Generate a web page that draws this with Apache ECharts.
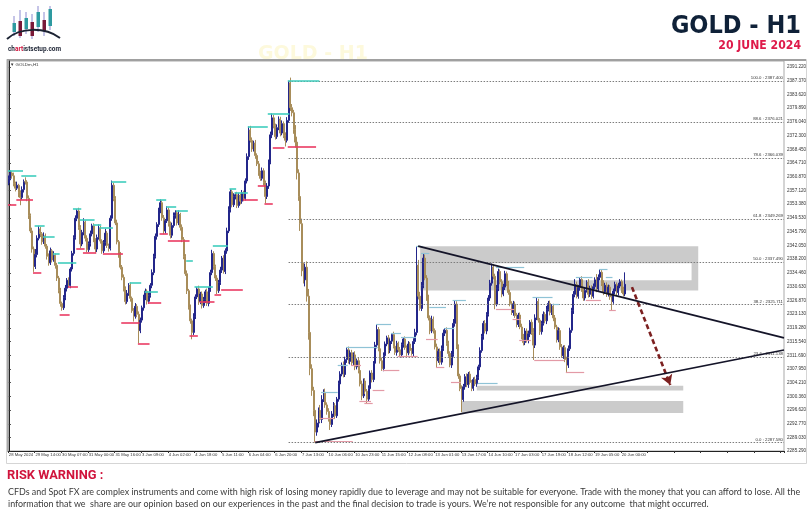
<!DOCTYPE html>
<html><head><meta charset="utf-8">
<script src="https://cdn.jsdelivr.net/npm/echarts@6/dist/echarts.min.js"></script>
<style>html,body{margin:0;padding:0;background:#fff}#c{width:812px;height:520px}</style>
</head><body><div id="c"></div>
<script>
// ---------- DATA ----------
const open0 = 2359.2;
const closes = [
2360.5,2362.0,2361.2,2359.0,2357.8,2358.6,2356.5,2355.2,2357.4,2359.6,
2359.5,2355.0,2350.2,2346.0,2341.0,2336.2,2339.5,2344.0,2346.5,2345.2,
2343.0,2344.6,2341.8,2339.0,2337.2,2340.5,2338.0,2339.2,2336.5,2333.0,
2329.5,2326.0,2324.8,2327.6,2330.2,2332.4,2331.0,2335.5,2339.8,2344.2,
2349.5,2351.5,2347.0,2342.4,2345.6,2348.4,2344.0,2340.8,2342.5,2345.2,
2347.4,2343.5,2341.0,2344.2,2346.8,2343.2,2340.5,2342.8,2345.4,2342.0,
2341.2,2349.5,2358.6,2355.0,2348.2,2343.0,2339.5,2336.0,2333.2,2330.0,
2326.5,2328.8,2331.0,2327.4,2324.0,2322.5,2325.2,2323.0,2318.5,2321.4,
2324.8,2327.5,2329.4,2326.6,2328.2,2331.0,2334.5,2339.0,2344.5,2347.8,
2351.5,2353.8,2349.6,2346.0,2348.8,2351.8,2348.0,2344.8,2347.5,2350.2,
2351.0,2348.2,2350.5,2347.0,2343.6,2339.0,2334.2,2329.5,2325.0,2321.2,
2318.0,2322.5,2327.8,2330.0,2326.5,2328.6,2325.4,2327.0,2329.2,2326.0,
2329.8,2334.5,2339.8,2336.2,2333.0,2329.5,2331.8,2335.2,2338.5,2334.8,
2340.5,2346.0,2352.0,2356.8,2353.2,2355.5,2356.0,2353.0,2355.8,2354.2,
2356.5,2355.0,2359.8,2366.5,2373.8,2371.0,2368.6,2370.2,2366.8,2364.5,
2362.0,2360.5,2362.6,2359.4,2355.5,2358.4,2365.0,2372.5,2377.2,2375.0,
2372.0,2374.5,2376.8,2373.0,2375.6,2372.4,2371.0,2376.5,2386.8,2380.0,
2378.6,2374.0,2370.5,2362.0,2355.5,2348.0,2335.0,2332.5,2336.0,2328.0,
2318.0,2308.0,2302.0,2296.5,2290.5,2293.0,2296.5,2294.0,2299.5,2301.5,
2298.0,2296.2,2294.0,2292.6,2295.5,2297.8,2295.0,2299.6,2303.8,2306.5,
2309.0,2306.4,2310.5,2313.2,2310.0,2312.4,2309.6,2311.8,2308.5,2310.2,
2307.5,2303.8,2300.5,2304.6,2301.8,2299.6,2302.5,2306.8,2305.0,2309.5,
2314.5,2318.8,2313.5,2310.2,2308.0,2311.6,2314.8,2316.5,2313.0,2315.6,
2317.4,2314.2,2312.5,2315.0,2313.2,2311.8,2314.6,2316.2,2313.8,2312.4,
2314.8,2313.0,2312.2,2315.5,2318.0,2336.5,2328.0,2324.6,2331.0,2338.5,
2333.0,2327.5,2322.0,2318.4,2321.6,2318.5,2314.0,2310.2,2312.8,2309.8,
2313.5,2317.8,2318.6,2315.0,2312.2,2309.0,2312.0,2320.5,2325.8,2314.0,
2306.0,2302.5,2299.5,2303.0,2305.8,2303.6,2306.5,2304.2,2302.6,2305.0,
2303.8,2305.6,2308.5,2313.0,2316.8,2320.5,2318.4,2323.0,2327.5,2331.6,
2336.0,2333.5,2325.8,2330.2,2334.8,2332.0,2328.6,2330.5,2334.2,2331.5,
2329.0,2326.0,2323.5,2325.8,2322.6,2320.2,2322.8,2319.5,2317.0,2315.2,
2318.4,2315.8,2317.6,2320.8,2318.0,2314.5,2322.0,2326.5,2321.4,2318.2,
2320.5,2323.0,2321.2,2324.4,2326.0,2323.5,2325.2,2322.0,2319.5,2316.0,
2318.5,2314.0,2311.6,2313.8,2310.5,2309.0,2313.5,2318.6,2324.0,2328.5,
2331.2,2328.0,2330.4,2332.6,2329.8,2327.5,2329.6,2331.8,2328.5,2330.2,
2328.0,2330.6,2332.5,2330.0,2333.2,2334.6,2331.5,2329.2,2331.0,2328.6,
2330.5,2327.8,2326.5,2329.4,2331.2,2329.0,2330.8,2332.0,2329.8,2328.6,2331.275
];
const wickHi = [
0.8,0.7,0.5,0.9,0.6,1.0,0.4,0.7,0.9,0.6, 1.2,0.5,0.8,0.6,0.9,0.7,1.5,0.8,0.9,0.6,
0.5,1.0,0.7,0.6,0.8,0.9,0.5,1.2,0.6,0.7, 0.6,0.8,0.5,0.7,0.9,0.6,0.8,0.5,0.7,0.6,
0.8,0.5,0.9,0.6,0.7,1.1,0.5,0.8,0.6,0.9, 0.6,0.7,0.5,0.8,1.0,0.6,0.5,0.7,1.2,0.6,
0.5,0.8,1.3,0.7,0.6,0.9,0.5,0.7,0.6,0.8, 0.7,0.9,0.6,0.8,0.5,0.7,0.9,0.6,0.8,0.7,
0.6,0.9,0.7,0.5,0.8,0.6,0.9,0.7,0.8,0.6, 0.9,0.9,0.6,0.8,0.5,1.0,0.7,0.6,0.8,0.9,
0.7,0.6,1.2,0.5,0.8,0.7,0.6,0.9,0.5,0.7, 0.6,0.8,0.7,0.5,0.9,0.6,0.7,0.8,0.6,0.9,
0.7,0.8,1.0,0.6,0.5,0.8,0.7,0.9,0.6,0.8, 0.7,0.9,0.8,0.7,0.6,0.9,0.6,0.8,0.7,0.5,
0.8,0.6,0.7,0.9,1.0,1.2,0.8,0.7,0.9,0.6, 0.8,0.6,0.9,0.7,0.5,0.8,0.7,0.9,1.2,0.8,
0.6,0.9,0.8,0.7,0.9,0.6,0.8,0.9,0.6,1.5, 1.0,0.8,1.2,1.5,1.0,2.0,1.4,2.2,1.0,1.6,
2.0,1.5,1.2,1.0,1.4,1.0,0.8,1.5,1.2,0.8, 1.0,0.7,0.9,0.6,0.8,1.0,0.7,0.6,0.9,0.8,
0.7,1.0,0.8,0.7,0.9,0.6,0.8,0.7,1.0,0.6, 0.8,0.6,0.9,0.7,0.8,0.6,0.9,0.7,0.8,0.6,
0.9,1.5,0.7,0.6,0.8,0.9,0.7,0.6,0.8,0.7, 0.4,0.8,0.6,0.7,0.5,0.8,0.6,0.5,0.7,0.6,
0.8,0.6,0.7,0.9,1.0,5.3,1.5,1.2,0.9,1.3, 1.0,0.8,0.9,0.7,1.0,0.8,0.6,0.9,0.7,0.8,
0.9,1.0,0.6,0.8,0.7,0.6,0.9,1.2,1.1,0.8, 0.7,0.6,0.9,0.8,0.7,0.9,0.6,0.8,0.7,0.6,
0.8,0.7,0.6,0.9,0.8,0.7,0.9,0.6,0.8,0.9, 1.0,0.8,0.7,0.9,0.8,0.6,0.7,0.9,0.8,0.6,
0.7,0.8,0.6,0.9,0.7,0.8,0.6,0.7,0.9,0.6, 0.8,0.7,0.9,0.6,0.8,1.2,1.0,1.2,0.8,0.6,
0.7,0.8,0.6,0.9,0.7,0.8,0.6,0.7,0.8,0.6, 0.9,0.7,0.8,0.6,0.7,0.8,0.9,0.7,0.8,0.9,
1.5,0.8,0.7,0.6,0.9,0.7,0.8,0.6,0.9,0.7, 0.8,0.9,0.7,1.6,0.8,0.8,0.6,0.9,0.7,0.8,
0.7,0.6,0.9,0.7,0.8,0.6,0.9,0.7,0.6,0.8,3.3
];
const wickLo = [
0.6,0.5,0.8,0.7,0.9,0.5,1.2,2.1,0.6,0.8, 0.7,0.8,0.9,0.6,1.0,1.5,0.7,0.8,0.6,0.9,
0.8,0.6,0.7,0.9,0.8,0.6,0.7,0.5,0.9,0.8, 0.7,0.9,0.8,0.6,0.7,0.9,0.6,0.8,0.7,0.6,
0.6,0.8,0.7,1.2,0.6,0.8,0.9,0.7,0.6,0.8, 0.7,0.6,1.0,0.8,0.6,0.7,0.8,0.6,0.9,0.7,
0.9,0.6,0.7,0.8,0.6,0.7,0.9,0.6,0.8,0.7, 0.8,0.6,0.7,0.9,0.6,1.5,0.7,0.8,3.5,0.7,
0.7,0.8,0.6,0.9,0.7,0.6,0.8,0.7,0.6,0.9, 0.7,0.6,0.8,0.9,0.7,0.6,0.8,0.9,0.7,0.6,
0.8,0.7,0.6,0.9,0.7,0.8,0.6,0.9,0.7,0.8, 1.9,0.7,0.8,0.6,0.9,0.7,0.8,0.6,0.9,0.7,
0.8,0.6,0.7,0.9,0.8,0.9,0.6,0.7,0.8,0.6, 0.7,0.8,0.6,0.9,0.7,0.6,0.8,0.7,0.6,0.9,
0.7,0.8,0.6,0.7,0.9,0.6,0.8,0.7,0.9,0.6, 0.8,0.7,0.6,0.9,1.9,0.7,0.8,0.6,0.9,0.7,
0.8,0.6,0.7,0.9,0.6,0.8,1.7,0.6,0.7,0.9, 1.0,1.2,1.5,1.8,1.2,2.0,1.5,1.0,1.8,1.5,
2.0,1.8,1.5,1.6,2.9,1.0,1.2,0.8,1.0,0.7, 0.8,0.9,0.6,1.5,0.7,0.8,0.9,0.6,0.7,0.8,
0.6,0.8,0.7,0.9,0.6,0.8,0.7,0.6,0.9,0.7, 0.8,0.7,1.2,0.6,0.8,1.1,0.7,0.6,0.8,0.7,
0.6,0.9,0.7,0.8,0.6,0.7,0.8,0.6,0.9,0.7, 0.8,0.6,0.7,0.9,0.6,0.5,0.7,0.8,0.6,0.9,
0.7,0.8,0.6,0.9,0.7,0.8,0.9,0.6,0.7,0.8, 0.6,0.8,0.7,0.9,0.6,0.8,0.7,1.8,0.6,0.8,
0.7,0.6,0.8,0.7,0.9,0.6,0.8,0.7,0.9,0.6, 0.8,0.7,3.5,0.6,0.8,0.7,0.9,0.6,0.8,0.7,
0.6,0.8,0.7,0.9,0.6,0.8,0.7,0.9,0.6,0.8, 0.7,0.9,1.4,0.6,0.8,0.7,0.9,0.6,0.8,0.7,
0.6,0.8,0.7,0.9,0.6,0.8,0.7,0.6,0.9,0.8, 0.7,0.6,0.8,0.9,0.7,4.1,0.8,0.6,0.7,0.9,
0.8,0.6,0.7,0.9,0.6,0.8,0.7,0.9,0.6,0.8, 0.7,0.8,0.6,0.9,0.7,1.9,0.8,0.6,0.7,0.9,
0.8,0.6,0.7,0.9,0.6,0.8,0.7,0.6,0.9,0.7, 0.8,0.6,0.7,0.9,0.6,0.8,0.7,0.9,0.6,0.8,
0.7,0.8,2.4,0.6,0.9,0.7,0.8,0.6,0.9,0.7,0.6
];
const nSlots = 466;
const labelEvery = 16;
const xTickLabels = ['28 May 2024','29 May 14:00','30 May 07:00','31 May 00:00','31 May 16:00','3 Jun 09:00',
 '4 Jun 02:00','4 Jun 18:00','5 Jun 11:00','6 Jun 04:00','6 Jun 20:00','7 Jun 13:00','10 Jun 06:00',
 '10 Jun 23:00','11 Jun 15:00','12 Jun 08:00','13 Jun 01:00','13 Jun 17:00','14 Jun 10:00','17 Jun 03:00',
 '17 Jun 19:00','18 Jun 12:00','19 Jun 05:00','20 Jun 00:00'];
const yTickValues = [2285.290,2289.030,2292.770,2296.620,2300.360,2304.210,2307.950,2311.690,2315.540,
 2319.280,2323.130,2326.870,2330.630,2334.460,2338.200,2342.050,2345.790,2349.530,2353.380,2357.120,
 2360.870,2364.710,2368.450,2372.300,2376.040,2379.890,2383.620,2387.370,2391.220];
const yMin = 2285.29, yMax = 2392.88;
const fibLow = 2287.58, fibHigh = 2387.40;
const fibLevels = [0, 23.6, 38.2, 50.0, 61.8, 78.6, 88.6, 100.0];
const fibStartIdx = 168;
// swing level markers: [startIdx, endIdx, price]
const swingHighs = [[0,8,2362.7],[8,16,2361.3],[16,21,2347.3],[21,27,2344.5],[27,30,2339.8],[30,40,2337.1],
 [39,43,2352.0],[43,51,2349.0],[51,55,2347.8],[55,62,2347.0],[62,70,2359.7],[73,79,2331.6],[82,89,2329.1],
 [89,94,2354.7],[95,100,2352.8],[101,107,2351.7],[107,110,2337.9],[112,122,2330.5],[123,131,2341.8],
 [133,136,2357.5],[136,143,2356.6],[144,155,2374.8],[156,168,2378.4],[168,186,2387.4]];
const swingLows = [[0,4,2353.1],[5,14,2354.7],[15,19,2334.6],[31,36,2323.0],[36,41,2330.7],[41,45,2341.2],
 [45,52,2340.1],[57,68,2339.8],[68,78,2320.8],[78,84,2315.0],[84,91,2326.1],[91,95,2345.1],[96,108,2343.4],
 [109,113,2317.2],[115,123,2326.4],[124,127,2328.3],[128,140,2329.9],[141,149,2354.7],[150,154,2358.6],
 [154,158,2353.6],[159,165,2369.0],[168,184,2369.3]];
const swingHighsLate = [[188,197,2301.5],[198,203,2309.0],[203,221,2313.9],[221,229,2320.3],[230,235,2317.8],
 [236,244,2316.7],[245,248,2341.8],[248,252,2339.8],[253,262,2325.0],[262,267,2319.2],[267,274,2326.9],
 [282,293,2304.0],[293,309,2336.0],[315,326,2327.7],[327,330,2325.8],[341,350,2333.2],[355,359,2335.4],[359,362,2333.2]];
const swingLowsLate = [[184,206,2288.0],[187,195,2294.4],[206,211,2309.0],[211,217,2299.1],[214,218,2298.5],
 [219,225,2302.1],[225,234,2307.6],[234,245,2311.5],[251,257,2316.1],[257,261,2308.4],[266,271,2304.3],
 [293,303,2324.4],[303,307,2321.7],[307,313,2315.9],[316,333,2310.4],[335,345,2307.1],[347,355,2326.9],[361,364,2324.1]];
const triUpper = [[245.8, 2341.8], [465.5, 2316.5]];
const triLower = [[184.0, 2287.6], [465.5, 2313.15]];
const arrowPts = [[374.2, 2330.5], [397.2, 2303.5]];
// zones: [startIdx, endIdx, top, bottom]
const grayZones = [[247, 414, 2341.8, 2329.6], [281, 405, 2303.3, 2302.0], [272, 405, 2299.1, 2295.8]];
const whiteZones = [[289, 410, 2337.1, 2332.4]];

// ---------- BUILD ----------
const cats = Array.from({length: nSlots}, (_, i) => String(i));
const candleData = closes.map((c, i) => {
  const o = i === 0 ? open0 : closes[i - 1];
  return [o, c, Math.min(o, c) - wickLo[i], Math.max(o, c) + wickHi[i]];
});
const lastClose = closes[closes.length - 1];
function segs(arr, color, w) {
  return arr.map(([s, e, v]) => [{coord: [s - 0.5, v], lineStyle: {color: color, width: w, type: 'solid'}}, {coord: [e + 0.5, v]}]);
}
function rects(arr, color) {
  return arr.map(([s, e, t, b]) => [{coord: [s, t], itemStyle: {color: color}}, {coord: [e, b]}]);
}
const fibLines = fibLevels.map(l => {
  const v = fibLow + (fibHigh - fibLow) * l / 100;
  return [{coord: [fibStartIdx, v], label: {formatter: l.toFixed(1) + ' : ' + v.toFixed(3)}}, {coord: [nSlots - 0.5, v]}];
});

const chart = echarts.init(document.getElementById('c'), null, {renderer: 'canvas'});
const F = 'Liberation Sans';
const showTick = (i) => i % labelEvery === 0;
chart.setOption({
  animation: false,
  backgroundColor: '#ffffff',
  grid: {left: 8, right: 28, top: 61, bottom: 69, show: true, borderColor: '#a9a9a9', borderWidth: 1},
  xAxis: [{
    type: 'category', data: cats, boundaryGap: true,
    axisLine: {lineStyle: {color: '#222', width: 1}},
    axisTick: {show: true, length: 2, interval: showTick, lineStyle: {color: '#333'}},
    axisLabel: {interval: showTick, showMinLabel: true, hideOverlap: false,
      formatter: (v, i) => xTickLabels[i / labelEvery] || '',
      fontSize: 4.2, color: '#333', align: 'left', margin: 2, fontFamily: F},
    splitLine: {show: false}
  }, {
    type: 'value', min: -0.5, max: nSlots - 0.5, show: false, gridIndex: 0
  }],
  yAxis: {
    type: 'value', position: 'right', min: yMin, max: yMax, scale: true,
    axisLine: {show: true, lineStyle: {color: '#222', width: 1}},
    axisTick: {show: true, length: 2, customValues: yTickValues, lineStyle: {color: '#333'}},
    axisLabel: {customValues: yTickValues, formatter: (v) => v.toFixed(3), fontSize: 4.6, color: '#333', margin: 3, fontFamily: F},
    splitLine: {show: false}
  },
  series: [
    {
      type: 'line', xAxisIndex: 1, data: [], z: 1, silent: true,
      markArea: {silent: true, data: rects(grayZones, '#cbcbcb').concat(rects(whiteZones, '#ffffff'))}
    },
    {
      type: 'line', xAxisIndex: 1, data: [], z: 2, silent: true,
      markLine: {silent: true, symbol: ['none', 'none'],
        lineStyle: {color: '#7d7d7d', width: 1, type: [1.5, 1.5]},
        label: {show: true, position: 'insideEndTop', fontSize: 4.3, color: '#333', distance: [1, 1], fontFamily: F},
        data: fibLines}
    },
    {
      type: 'candlestick', xAxisIndex: 0, data: candleData, z: 3, barWidth: 1.5,
      itemStyle: {color: '#23268a', color0: '#a88d5a', borderColor: '#23268a', borderColor0: '#a88d5a', borderWidth: 1},
      markLine: {silent: true, symbol: ['none', 'none'], lineStyle: {opacity: 0},
        label: {show: true, position: 'end', distance: 1, formatter: () => lastClose.toFixed(3),
          backgroundColor: '#111', color: '#fff', fontSize: 5, padding: [1, 2], fontFamily: F},
        data: [{yAxis: lastClose}]}
    },
    {
      type: 'line', xAxisIndex: 1, data: [], z: 4, silent: true,
      markLine: {silent: true, symbol: ['none', 'none'], label: {show: false},
        data: segs(swingHighs, '#3fcdbd', 1.6).concat(segs(swingLows, '#ea3a62', 1.6),
          segs(swingHighsLate, '#8fc3d6', 1.2), segs(swingLowsLate, '#e39aa6', 1.2))}
    },
    {
      type: 'line', xAxisIndex: 1, data: triUpper, z: 5, symbol: 'none', silent: true,
      lineStyle: {color: '#141428', width: 1.7}
    },
    {
      type: 'line', xAxisIndex: 1, data: triLower, z: 5, symbol: 'none', silent: true,
      lineStyle: {color: '#141428', width: 1.7},
      markLine: {silent: true, symbol: ['none', 'arrow'], symbolSize: [9, 10], label: {show: false},
        lineStyle: {color: '#7c2020', width: 2.6, type: [5, 3]},
        data: [[{coord: arrowPts[0]}, {coord: arrowPts[1]}]]}
    }
  ],
  graphic: [
    // window frame
    {type: 'rect', shape: {x: 6.5, y: 59.5, width: 800, height: 404}, style: {fill: 'none', stroke: '#d5d5d5', lineWidth: 1}, z: -1},
    {type: 'line', shape: {x1: 7, y1: 60, x2: 806, y2: 60}, style: {stroke: '#a0a0a0', lineWidth: 2}},
    {type: 'line', shape: {x1: 8, y1: 60, x2: 8, y2: 451}, style: {stroke: '#a8a8a8', lineWidth: 2}},
    {type: 'text', style: {text: '▼ GOLDm,H1', x: 10, y: 63, fontSize: 4.4, fill: '#333', fontFamily: F}},
    // faint watermark
    {type: 'text', style: {text: 'GOLD - H1', x: 258, y: 45, fontSize: 19, fontWeight: 'bold', fill: '#fdf9dc', fontFamily: 'DejaVu Sans'}, z: -2},
    // logo
    {type: 'group', children: [
      {type: 'line', shape: {x1: 14, y1: 16, x2: 14, y2: 36}, style: {stroke: '#8c8ad0', lineWidth: 1}},
      {type: 'rect', shape: {x: 12.5, y: 23, width: 3.5, height: 9}, style: {fill: '#2e9aa0'}},
      {type: 'line', shape: {x1: 20, y1: 10, x2: 20, y2: 38}, style: {stroke: '#8c8ad0', lineWidth: 1}},
      {type: 'rect', shape: {x: 18.5, y: 21, width: 3.5, height: 15}, style: {fill: '#7a1838'}},
      {type: 'line', shape: {x1: 26, y1: 12, x2: 26, y2: 34}, style: {stroke: '#8c8ad0', lineWidth: 1}},
      {type: 'rect', shape: {x: 24.5, y: 18, width: 3.5, height: 11}, style: {fill: '#2e9aa0'}},
      {type: 'line', shape: {x1: 32, y1: 14, x2: 32, y2: 39}, style: {stroke: '#8c8ad0', lineWidth: 1}},
      {type: 'rect', shape: {x: 30.5, y: 22, width: 3.5, height: 14}, style: {fill: '#7a1838'}},
      {type: 'line', shape: {x1: 38, y1: 6, x2: 38, y2: 32}, style: {stroke: '#8c8ad0', lineWidth: 1}},
      {type: 'rect', shape: {x: 36.5, y: 12, width: 3.5, height: 15}, style: {fill: '#2e9aa0'}},
      {type: 'line', shape: {x1: 44, y1: 12, x2: 44, y2: 36}, style: {stroke: '#8c8ad0', lineWidth: 1}},
      {type: 'rect', shape: {x: 42.5, y: 20, width: 3.5, height: 11}, style: {fill: '#7a1838'}},
      {type: 'line', shape: {x1: 50, y1: 6, x2: 50, y2: 30}, style: {stroke: '#8c8ad0', lineWidth: 1}},
      {type: 'rect', shape: {x: 48.5, y: 9, width: 3.5, height: 17}, style: {fill: '#2e9aa0'}},
      {type: 'bezierCurve', shape: {x1: 7, y1: 39, cpx1: 20, cpy1: 27, cpx2: 45, cpy2: 27, x2: 60, y2: 38}, style: {stroke: '#1c2333', lineWidth: 2, fill: 'none'}},
      {type: 'text', x: 8, y: 45, scaleX: 0.86, style: {x: 0, y: 0, text: '{a|ch}{b|art}{a|istsetup.com}', rich: {
        a: {fontSize: 7.5, fontWeight: 'bold', fill: '#1c2333', fontFamily: 'Roboto'},
        b: {fontSize: 7.5, fontWeight: 'bold', fill: '#d0143c', fontFamily: 'Roboto'}}}}
    ]},
    // titles
    {type: 'text', x: 801, y: 14, scaleX: 0.9, style: {text: 'GOLD - H1', x: 0, y: 0, textAlign: 'right', fontSize: 25, fontWeight: 'bold', fill: '#0f2138', fontFamily: 'DejaVu Sans'}},
    {type: 'text', x: 801, y: 39, scaleX: 0.84, style: {text: '20 JUNE 2024', x: 0, y: 0, textAlign: 'right', fontSize: 13, fontWeight: 'bold', fill: '#de1a4a', fontFamily: 'DejaVu Sans'}},
    // risk warning
    {type: 'text', x: 7, y: 469, scaleX: 0.95, style: {text: 'RISK WARNING :', x: 0, y: 0, fontSize: 13.5, fontWeight: 'bold', fill: '#d0143c', fontFamily: 'Roboto'}},
    {type: 'text', x: 8, y: 487, scaleX: 0.892, style: {text: 'CFDs and Spot FX are complex instruments and come with high risk of losing money rapidly due to leverage and may not be suitable for everyone. Trade with the money that you can afford to lose. All the', x: 0, y: 0, fontSize: 10, fill: '#3a3a3a', fontFamily: 'Lato'}},
    {type: 'text', x: 8, y: 499, scaleX: 0.892, style: {text: 'information that we  share are our opinion based on our experiences in the past and the final decision to trade is yours. We\u2019re not responsible for any outcome  that might occurred.', x: 0, y: 0, fontSize: 10, fill: '#3a3a3a', fontFamily: 'Lato'}}
  ]
});
</script></body></html>
